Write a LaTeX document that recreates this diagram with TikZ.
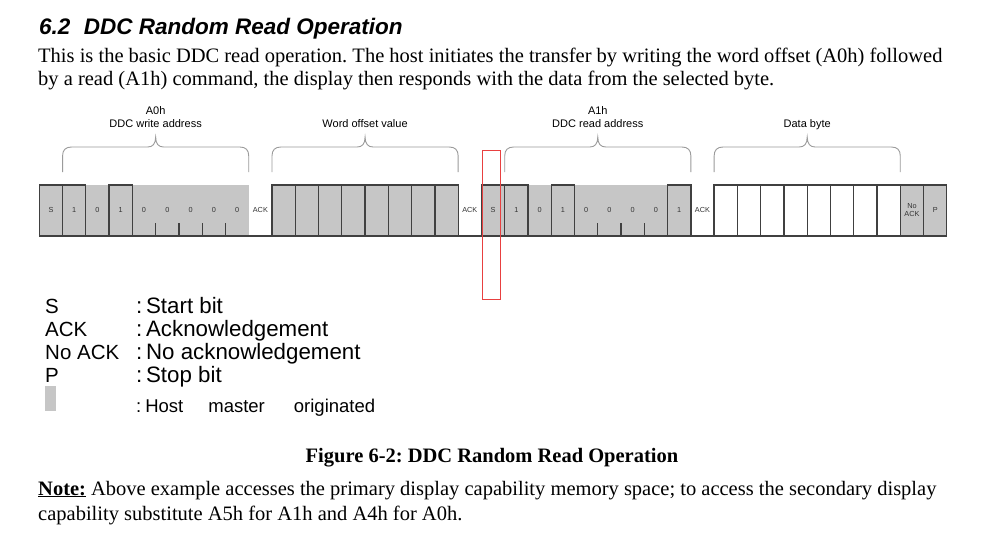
\documentclass[tikz,border=0pt]{standalone}
\usepackage{fontspec}
\setmainfont{Liberation Serif}
\setsansfont{Liberation Sans}
\usetikzlibrary{positioning}

\definecolor{hostgray}{RGB}{198,198,198}
\definecolor{wiregray}{RGB}{64,64,64}
\definecolor{bracegray}{RGB}{155,155,155}
\definecolor{markred}{RGB}{232,64,64}

% bit cell grid
\def\bitx{39.3}
\def\bitw{23.27}

\tikzset{
	wire/.style={draw=wiregray, line width=1.3pt},
	hostfill/.style={fill=hostgray},
	fieldbrace/.style={draw=bracegray, line width=0.9pt},
	bitlabel/.style={font=\sffamily\fontsize{7.3}{8}\selectfont, text=black!80, inner sep=0pt},
	fieldlabel/.style={font=\sffamily\fontsize{11}{13}\selectfont, anchor=base, inner sep=0pt},
	legendterm/.style={font=\sffamily\fontsize{20.5}{23}\selectfont, anchor=base west, inner sep=0pt},
	legendtext/.style={font=\sffamily\fontsize{22.3}{24}\selectfont, anchor=base west, inner sep=0pt},
	bodytext/.style={font=\fontsize{20.5}{23}\selectfont, anchor=base west, inner sep=0pt},
}

% curly brace over cells #1 .. #2
\newcommand{\bytebrace}[2]{%
	\pgfmathsetmacro{\braceL}{\bitx+#1*\bitw}%
	\pgfmathsetmacro{\braceR}{\bitx+#2*\bitw}%
	\pgfmathsetmacro{\braceM}{(\braceL+\braceR)/2}%
	\draw[fieldbrace] (\braceL,172) -- (\braceL,156)
		.. controls (\braceL,150) and (\braceL+3,147) .. (\braceL+9,147) -- (\braceM-8,147)
		.. controls (\braceM-3,147) and (\braceM,144) .. (\braceM,137)
		.. controls (\braceM,144) and (\braceM+3,147) .. (\braceM+8,147) -- (\braceR-9,147)
		.. controls (\braceR-3,147) and (\braceR,150) .. (\braceR,156) -- (\braceR,172);
}

\begin{document}
\frenchspacing
\begin{tikzpicture}[x=1pt, y=-1pt]
	\useasboundingbox (0,0) rectangle (999,536);
	\fill[white] (0,0) rectangle (999,536);

	% heading and intro
	\node[bodytext, font=\sffamily\bfseries\itshape\fontsize{22.5}{26}\selectfont] (title) at (39,34) {6.2\hspace{0.6em}DDC Random Read Operation};
	\node[bodytext] (intro1) at (38,62) {This is the basic DDC read operation. The host initiates the transfer by writing the word offset (A0h) followed};
	\node[bodytext] (intro2) at (38,85) {by a read (A1h) command, the display then responds with the data from the selected byte.};

	% host shading
	\fill[hostfill] (\bitx,185) rectangle ({\bitx+9*\bitw},236);
	\fill[hostfill] ({\bitx+10*\bitw},185) rectangle ({\bitx+18*\bitw},236);
	\fill[hostfill] ({\bitx+19*\bitw},185) rectangle ({\bitx+28*\bitw},236);
	\fill[hostfill] ({\bitx+37*\bitw},185) rectangle ({\bitx+39*\bitw},236);

	% waveform
	\draw[wire] (\bitx,236) -- ({\bitx+39*\bitw},236);
	\foreach \i in {0,1,3,10,11,...,17,19,20,22,27,29,30,...,38}
		\draw[wire] ({\bitx+\i*\bitw},236) rectangle ({\bitx+(\i+1)*\bitw},185);
	\foreach \i in {5,6,7,8,24,25,26}
		\draw[wire] ({\bitx+\i*\bitw},236) -- ({\bitx+\i*\bitw},223);

	% bit names
	\foreach \i/\t in {0/S,1/1,2/0,3/1,4/0,5/0,6/0,7/0,8/0,9/ACK,18/ACK,19/S,20/1,21/0,22/1,23/0,24/0,25/0,26/0,27/1,28/ACK,38/P}
		\node[bitlabel] (bit\i) at ({\bitx+(\i+0.5)*\bitw},210) {\t};
	\node[bitlabel, align=center] (bit37) at ({\bitx+37.5*\bitw},210) {No\\ACK};

	% braces
	\bytebrace{1}{9}
	\bytebrace{10}{18}
	\bytebrace{20}{28}
	\bytebrace{29}{37}
	\node[fieldlabel] (wraddr) at ({\bitx+5*\bitw},127) {DDC write address};
	\node[fieldlabel] (wrhex) at ({\bitx+5*\bitw},114) {A0h};
	\node[fieldlabel] (offset) at ({\bitx+14*\bitw},127) {Word offset value};
	\node[fieldlabel] (rdaddr) at ({\bitx+24*\bitw},127) {DDC read address};
	\node[fieldlabel] (rdhex) at ({\bitx+24*\bitw},114) {A1h};
	\node[fieldlabel] (data) at ({\bitx+33*\bitw},127) {Data byte};

	% marker
	\draw[markred, line width=0.9pt] (482,150) rectangle (500,299);

	% legend
	\node[legendterm] (keyS) at (45,313) {S};
	\node[legendterm] (keyACK) at (45,336) {ACK};
	\node[legendterm] (keyNoACK) at (45,359) {No ACK};
	\node[legendterm] (keyP) at (45,382) {P};
	\fill[hostfill] (45,386) rectangle (56,411);
	\node[legendtext] (txtS) at (136,313) {:\,Start bit};
	\node[legendtext] (txtACK) at (136,336) {:\,Acknowledgement};
	\node[legendtext] (txtNoACK) at (136,359) {:\,No acknowledgement};
	\node[legendtext] (txtP) at (136,382) {:\,Stop bit};
	\node[legendtext, font=\sffamily\fontsize{18.5}{20}\selectfont] (txtHost) at (136,412) {:\hspace{4pt}Host\hspace{25pt}master\hspace{29pt}originated};

	% caption and note
	\node[bodytext, anchor=base, font=\bfseries\fontsize{20.5}{23}\selectfont] (caption) at (492,462) {Figure 6-2: DDC Random Read Operation};
	\node[bodytext] (note1) at (38,495) {\underline{\textbf{Note:}} Above example accesses the primary display capability memory space; to access the secondary display};
	\node[bodytext] (note2) at (38,520) {capability substitute A5h for A1h and A4h for A0h.};
\end{tikzpicture}
\end{document}
